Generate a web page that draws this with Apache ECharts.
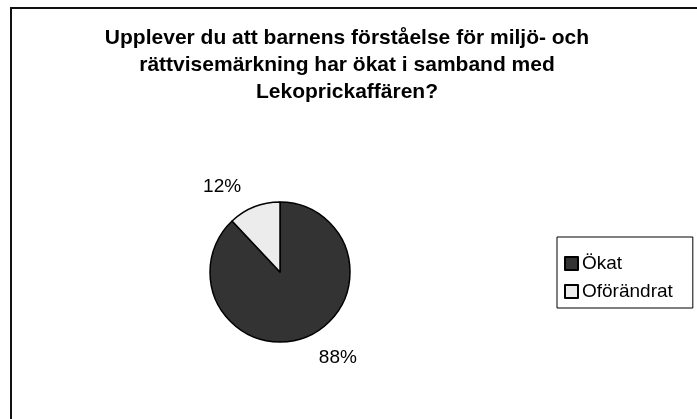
<!DOCTYPE html>
<html>
<head>
<meta charset="utf-8">
<title>Lekoprickaffären</title>
<script src="https://cdn.jsdelivr.net/npm/echarts@6/dist/echarts.min.js"></script>
<style>
  html, body { margin: 0; padding: 0; background: #fff; }
  #chart { width: 697px; height: 419px; }
</style>
</head>
<body>
<div id="chart"></div>
<script>
var categories = ['Ökat', 'Oförändrat'];
var values = [88, 12];
var titleText = 'Upplever du att barnens förståelse för miljö- och\nrättvisemärkning har ökat i samband med\nLekoprickaffären?';

var myChart = echarts.init(document.getElementById('chart'));

var option = {
    backgroundColor: '#fff',
    animation: false,
    textStyle: { fontFamily: 'Liberation Sans, Arial, sans-serif' },
    // outer frame (only left and top edges are visible in the scan)
    graphic: [{
        type: 'rect',
        shape: { x: 11, y: 8, width: 760, height: 480 },
        style: { fill: 'none', stroke: '#111', lineWidth: 2 }
    }],
    title: {
        text: titleText,
        left: 342,
        textAlign: 'center',
        top: 20,
        textStyle: {
            fontSize: 21,
            fontWeight: 'bold',
            color: '#000',
            lineHeight: 27
        }
    },
    legend: {
        orient: 'vertical',
        left: 557,
        top: 237,
        padding: [17, 20, 7, 7],
        itemGap: 9,
        itemWidth: 13,
        itemHeight: 13,
        borderColor: '#000',
        borderWidth: 1,
        icon: 'rect',
        data: categories,
        textStyle: { fontSize: 19, color: '#000', padding: [0, 0, 0, -1] }
    },
    series: [{
        type: 'pie',
        center: [280, 272],
        radius: 70,
        startAngle: 90,
        clockwise: true,
        label: {
            show: true,
            position: 'outside',
            formatter: '{d}%',
            fontSize: 19,
            color: '#000'
        },
        labelLine: { show: false, length: 22, length2: 0 },
        itemStyle: { borderColor: '#000', borderWidth: 1.5 },
        data: categories.map(function (name, i) {
            return {
                name: name,
                value: values[i],
                itemStyle: { color: i === 0 ? '#333333' : '#ececec' }
            };
        })
    }]
};
myChart.setOption(option);
</script>
</body>
</html>
